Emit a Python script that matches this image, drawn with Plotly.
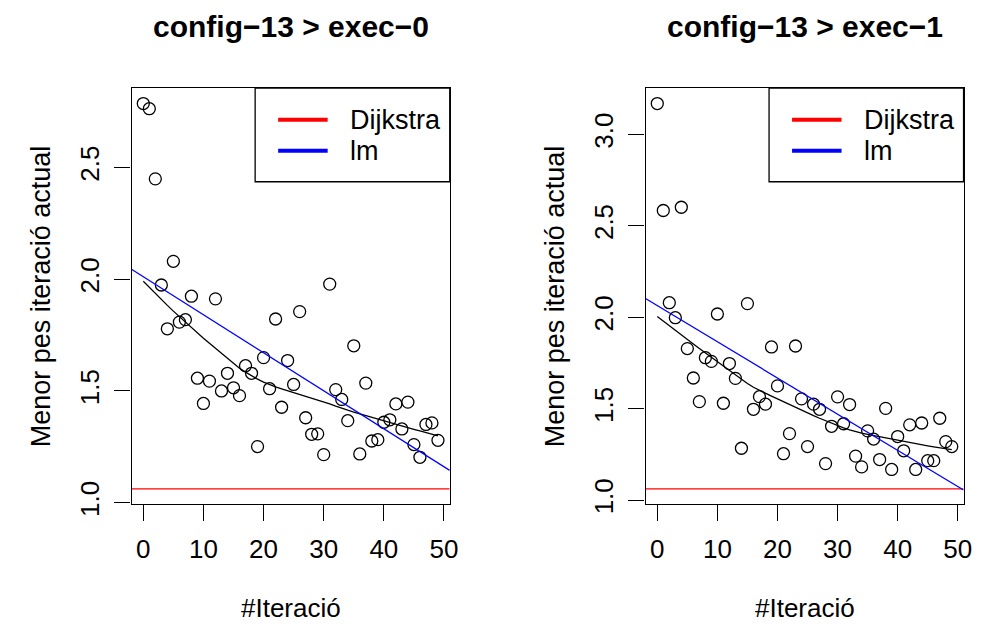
import numpy as np
import plotly.graph_objects as go

# Iterations and best weight found per iteration for two executions of config-13
iterations = list(range(50))

exec0_best = [2.786, 2.763, 2.449, 1.974, 1.778, 2.080, 1.808, 1.819, 1.924, 1.557,
              1.444, 1.544, 1.912, 1.500, 1.579, 1.514, 1.479, 1.613, 1.579, 1.251,
              1.649, 1.510, 1.822, 1.427, 1.636, 1.529, 1.855, 1.380, 1.306, 1.308,
              1.215, 1.978, 1.506, 1.462, 1.367, 1.702, 1.218, 1.535, 1.276, 1.282,
              1.360, 1.371, 1.442, 1.330, 1.450, 1.260, 1.203, 1.350, 1.357, 1.279]

exec1_best = [3.169, 2.584, 2.080, 1.998, 2.602, 1.829, 1.668, 1.539, 1.779, 1.759,
              2.018, 1.530, 1.747, 1.666, 1.284, 2.075, 1.497, 1.566, 1.525, 1.838,
              1.625, 1.254, 1.364, 1.843, 1.554, 1.293, 1.525, 1.497, 1.200, 1.404,
              1.565, 1.418, 1.523, 1.241, 1.182, 1.379, 1.334, 1.222, 1.502, 1.168,
              1.348, 1.270, 1.412, 1.168, 1.422, 1.216, 1.216, 1.448, 1.320, 1.293]

# Optimal path weight given by Dijkstra
dijkstra_cost = 1.062

panel_titles = ["config\u221213 > exec\u22120", "config\u221213 > exec\u22121"]
x_title = "#Iteració"
y_title = "Menor pes iteració actual"
legend_labels = ["Dijkstra", "lm"]

x_ticks = [0, 10, 20, 30, 40, 50]
y_ticks_exec0 = [1.0, 1.5, 2.0, 2.5]
y_ticks_exec1 = [1.0, 1.5, 2.0, 2.5, 3.0]

FONT = "Liberation Sans"
RED = "#FF0000"
BLUE = "#0000FF"


def lowess(x, y, f=2 / 3, iters=3):
    """Locally weighted scatterplot smoothing (Cleveland), as in R's lowess()."""
    x = np.asarray(x, float)
    y = np.asarray(y, float)
    n = len(x)
    ns = max(2, min(n, int(f * n + 1e-7)))
    rng = x.max() - x.min()
    rw = np.ones(n)
    ys = np.zeros(n)
    for it in range(iters + 1):
        for i in range(n):
            d = np.abs(x - x[i])
            h = np.sort(d)[ns - 1]
            w = np.zeros(n)
            near = d <= 0.999 * h
            w[near] = (1 - (d[near] / h) ** 3) ** 3
            w[d <= 0.001 * h] = 1.0
            w *= rw
            w = w / w.sum()
            a = np.sum(w * x)
            c = np.sum(w * (x - a) ** 2)
            if np.sqrt(c) > 0.001 * rng:
                b = (x[i] - a) / c
                w = w * (b * (x - a) + 1)
            ys[i] = np.sum(w * y)
        if it == iters:
            break
        res = y - ys
        cmad = 6 * np.median(np.abs(res))
        if cmad < 1e-7 * np.mean(np.abs(y)):
            break
        r = np.abs(res) / cmad
        rw = np.where(r <= 0.001, 1.0, np.where(r <= 0.999, (1 - r ** 2) ** 2, 0.0))
    return ys


def padded(lo, hi):
    pad = 0.04 * (hi - lo)
    return [lo - pad, hi + pad]


fig = go.Figure()

x_domains = [[0.1353, 0.4627], [0.6641, 0.9913]]
y_domain = [0.1945, 0.8592]
series = [exec0_best, exec1_best]
y_tick_sets = [y_ticks_exec0, y_ticks_exec1]

annotations = []
shapes = []

for k, values in enumerate(series):
    xa = "x" if k == 0 else "x2"
    ya = "y" if k == 0 else "y2"
    xr = padded(min(iterations), max(iterations))
    yr = padded(min(min(values), dijkstra_cost), max(values))

    # points
    fig.add_trace(go.Scatter(
        x=iterations, y=values, mode="markers", xaxis=xa, yaxis=ya,
        marker=dict(symbol="circle-open", size=12, color="black",
                    line=dict(width=1.3, color="black")),
        showlegend=False, hoverinfo="skip"))

    # lowess smoother
    smooth = lowess(iterations, values)
    fig.add_trace(go.Scatter(
        x=iterations, y=smooth, mode="lines", xaxis=xa, yaxis=ya,
        line=dict(color="black", width=1.3), showlegend=False, hoverinfo="skip"))

    # Dijkstra reference line across the whole panel
    fig.add_trace(go.Scatter(
        x=xr, y=[dijkstra_cost, dijkstra_cost], mode="lines", xaxis=xa, yaxis=ya,
        line=dict(color=RED, width=1.3), showlegend=False, hoverinfo="skip"))

    # linear model fit across the whole panel
    slope, intercept = np.polyfit(iterations, values, 1)
    fig.add_trace(go.Scatter(
        x=xr, y=[intercept + slope * xv for xv in xr], mode="lines",
        xaxis=xa, yaxis=ya, line=dict(color=BLUE, width=1.3),
        showlegend=False, hoverinfo="skip"))

    axis_common = dict(showline=True, linecolor="black", linewidth=1.3, mirror=True,
                       ticks="outside", ticklen=16, tickwidth=1.3, tickcolor="black",
                       showgrid=False, zeroline=False,
                       tickfont=dict(family=FONT, size=26, color="black"))
    xkey = "xaxis" if k == 0 else "xaxis2"
    ykey = "yaxis" if k == 0 else "yaxis2"
    fig.update_layout(**{
        xkey: dict(domain=x_domains[k], range=xr, anchor=ya, tickvals=x_ticks,
                   ticklabelstandoff=5, **axis_common),
        ykey: dict(domain=y_domain, range=yr, anchor=xa, tickvals=y_tick_sets[k],
                   tickformat=".1f", tickangle=-90, ticklabelstandoff=5,
                   **axis_common),
    })

    xd = xa + " domain"
    yd = ya + " domain"

    # panel title
    annotations.append(dict(text="<b>" + panel_titles[k] + "</b>", xref=xd, yref="paper",
                            x=0.5, y=1 - 27 / 639, xanchor="center", yanchor="middle",
                            showarrow=False, font=dict(family=FONT, size=30, color="black")))
    # axis titles
    annotations.append(dict(text=x_title, xref=xd, yref="paper", x=0.5, y=1 - 621 / 639,
                            xanchor="center", yanchor="middle", showarrow=False,
                            font=dict(family=FONT, size=26, color="black")))
    annotations.append(dict(text=y_title, xref="paper", yref=yd,
                            x=(41.5 + (0 if k == 0 else 518.8)) / 981, y=0.5,
                            xanchor="center", yanchor="middle", textangle=-90,
                            showarrow=False, font=dict(family=FONT, size=27, color="black")))

    # legend box in the top-right corner
    shapes.append(dict(type="rect", xref=xd, yref=yd, x0=0.3885, x1=1.0, y0=0.775, y1=1.0,
                       line=dict(color="black", width=1.3), fillcolor="white", layer="above"))
    for label, color, ly in zip(legend_labels, [RED, BLUE], [0.924, 0.8493]):
        shapes.append(dict(type="line", xref=xd, yref=yd, x0=0.4608, x1=0.6164, y0=ly, y1=ly,
                           line=dict(color=color, width=4), layer="above"))
        annotations.append(dict(text=label, xref=xd, yref=yd, x=0.6818, y=ly,
                                xanchor="left", yanchor="middle", showarrow=False,
                                font=dict(family=FONT, size=27, color="black")))

fig.update_layout(
    width=981, height=639,
    margin=dict(l=0, r=0, t=0, b=0),
    paper_bgcolor="white", plot_bgcolor="white",
    showlegend=False,
    annotations=annotations, shapes=shapes,
)

fig.write_html("out.html")
